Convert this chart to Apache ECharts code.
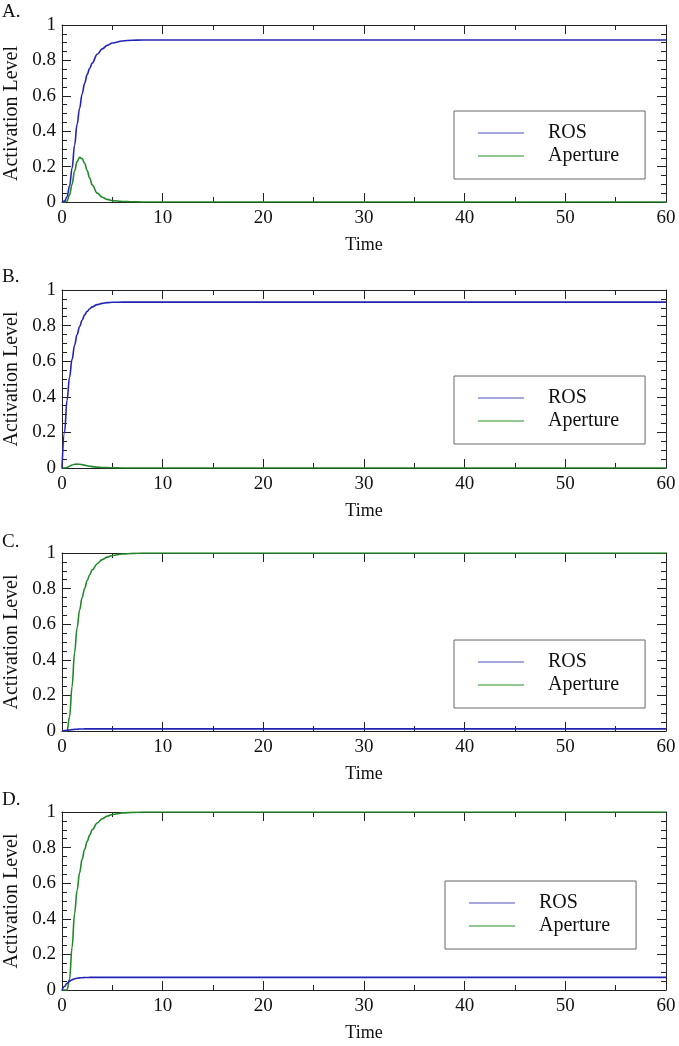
<!DOCTYPE html>
<html>
<head>
<meta charset="utf-8">
<script src="https://cdn.jsdelivr.net/npm/echarts@6/dist/echarts.min.js"></script>
<style>html,body{margin:0;padding:0;background:#fff;}#c{width:679px;height:1046px;}</style>
</head>
<body>
<div id="c"></div>
<script>
// Time samples (shared by all panels)
var time = [0, 0.25, 0.5, 0.75, 1, 1.25, 1.5, 1.75, 2, 2.25, 2.5, 2.75, 3, 3.5, 4, 4.5, 5, 6, 7, 8, 10, 60];

// Panel A
var rosA = [0, 0.005, 0.03, 0.09, 0.19, 0.32, 0.44, 0.53, 0.61, 0.67, 0.72, 0.755, 0.785, 0.835, 0.865, 0.885, 0.898, 0.91, 0.914, 0.915, 0.915, 0.915];
var apA  = [0, 0, 0.005, 0.04, 0.1, 0.175, 0.228, 0.252, 0.245, 0.218, 0.178, 0.135, 0.097, 0.05, 0.027, 0.015, 0.008, 0.003, 0.001, 0, 0, 0];
// Panel B
var rosB = [0, 0.2, 0.38, 0.51, 0.61, 0.69, 0.75, 0.795, 0.83, 0.86, 0.88, 0.895, 0.905, 0.918, 0.925, 0.929, 0.931, 0.932, 0.932, 0.932, 0.932, 0.932];
var apB  = [0, 0, 0.003, 0.01, 0.017, 0.021, 0.022, 0.021, 0.019, 0.016, 0.013, 0.01, 0.008, 0.005, 0.003, 0.002, 0.001, 0, 0, 0, 0, 0];
// Panel C
var rosC = [0, 0.002, 0.004, 0.006, 0.008, 0.009, 0.01, 0.011, 0.011, 0.012, 0.012, 0.012, 0.012, 0.012, 0.012, 0.012, 0.012, 0.012, 0.012, 0.012, 0.012, 0.012];
var apC  = [0, 0, 0, 0.08, 0.25, 0.44, 0.58, 0.68, 0.75, 0.8, 0.845, 0.878, 0.905, 0.94, 0.963, 0.977, 0.986, 0.994, 0.998, 1, 1, 1];
// Panel D
var rosD = [0, 0.02, 0.038, 0.05, 0.058, 0.063, 0.066, 0.068, 0.069, 0.07, 0.07, 0.071, 0.071, 0.071, 0.071, 0.071, 0.071, 0.071, 0.071, 0.071, 0.071, 0.071];
var apD  = [0, 0, 0, 0.06, 0.24, 0.43, 0.56, 0.66, 0.735, 0.79, 0.835, 0.87, 0.9, 0.938, 0.962, 0.977, 0.986, 0.995, 0.998, 1, 1, 1];

var panelLabels = ['A.', 'B.', 'C.', 'D.'];
var seriesNames = ['ROS', 'Aperture'];
var xTitle = 'Time';
var yTitle = 'Activation Level';

var panels = [
  {label: panelLabels[0], ros: rosA, ap: apA, top: 25, h: 177, legLeft: 454, legTop: 111, labTop: 3},
  {label: panelLabels[1], ros: rosB, ap: apB, top: 290, h: 178, legLeft: 454, legTop: 376, labTop: 268},
  {label: panelLabels[2], ros: rosC, ap: apC, top: 553, h: 178, legLeft: 454, legTop: 640, labTop: 533},
  {label: panelLabels[3], ros: rosD, ap: apD, top: 812, h: 178, legLeft: 445, legTop: 881, labTop: 791}
];

var FONT = '"Liberation Serif", "Times New Roman", "DejaVu Serif", serif';
var ROS_COLOR = '#2424b4';
var AP_COLOR = '#22882a';

function pairs(xs, ys) { return xs.map(function (x, i) { return [x, ys[i]]; }); }

var option = {
  backgroundColor: '#fff',
  animation: false,
  textStyle: {fontFamily: FONT},
  title: [], grid: [], xAxis: [], yAxis: [], series: [], legend: []
};

panels.forEach(function (p, i) {
  option.title.push({text: p.label, left: 2, top: p.labTop, padding: 0,
    textStyle: {fontFamily: FONT, fontSize: 19, fontWeight: 'normal', color: '#111'}});
  option.grid.push({left: 62, right: 13, top: p.top, height: p.h, containLabel: false, outerBoundsMode: 'none'});
  var tick = {show: true, inside: true, length: 9, lineStyle: {color: '#222'}};
  var minor = {show: true, length: 5, lineStyle: {color: '#222'}};
  var axLine = {show: true, onZero: false, lineStyle: {color: '#222', width: 1}};
  // bottom x axis
  option.xAxis.push({type: 'value', gridIndex: i, min: 0, max: 60, interval: 10, position: 'bottom',
    axisLine: axLine, axisTick: tick, minorTick: Object.assign({splitNumber: 2}, minor),
    splitLine: {show: false},
    axisLabel: {fontFamily: FONT, fontSize: 19, color: '#111', margin: 7},
    name: xTitle, nameLocation: 'middle', nameGap: 34,
    nameTextStyle: {fontFamily: FONT, fontSize: 18, color: '#111'}});
  // top mirror x axis
  option.xAxis.push({type: 'value', gridIndex: i, min: 0, max: 60, interval: 10, position: 'top',
    axisLine: axLine, axisTick: tick, minorTick: Object.assign({splitNumber: 2}, minor),
    splitLine: {show: false}, axisLabel: {show: false}});
  // left y axis
  option.yAxis.push({type: 'value', gridIndex: i, min: 0, max: 1, interval: 0.2, position: 'left',
    axisLine: axLine, axisTick: tick, minorTick: Object.assign({splitNumber: 4}, minor),
    splitLine: {show: false},
    axisLabel: {fontFamily: FONT, fontSize: 19, color: '#111', margin: 6},
    name: yTitle, nameLocation: 'middle', nameGap: 40, nameRotate: 90,
    nameTextStyle: {fontFamily: FONT, fontSize: 20, color: '#111'}});
  // right mirror y axis
  option.yAxis.push({type: 'value', gridIndex: i, min: 0, max: 1, interval: 0.2, position: 'right',
    axisLine: axLine, axisTick: tick, minorTick: Object.assign({splitNumber: 4}, minor),
    splitLine: {show: false}, axisLabel: {show: false}});

  option.series.push({name: seriesNames[0], type: 'line', xAxisIndex: 2 * i, yAxisIndex: 2 * i,
    data: pairs(time, p.ros), showSymbol: false, symbol: 'none', smooth: 0.4, smoothMonotone: 'x',
    lineStyle: {color: ROS_COLOR, width: 1.6}, itemStyle: {color: ROS_COLOR}, z: 3});
  option.series.push({name: seriesNames[1], type: 'line', xAxisIndex: 2 * i, yAxisIndex: 2 * i,
    data: pairs(time, p.ap), showSymbol: false, symbol: 'none', smooth: 0.4, smoothMonotone: 'x',
    lineStyle: {color: AP_COLOR, width: 1.6}, itemStyle: {color: AP_COLOR}, z: 2});

  option.legend.push({
    orient: 'vertical', left: p.legLeft, top: p.legTop, selectedMode: false,
    padding: [11, 26, 12, 24], itemGap: 1, itemWidth: 46, itemHeight: 1.5,
    backgroundColor: '#fff', borderColor: '#666', borderWidth: 1, borderRadius: 0,
    icon: 'rect',
    data: [
      {name: seriesNames[0], itemStyle: {color: '#8a8ad6'}},
      {name: seriesNames[1], itemStyle: {color: '#6cb46c'}}
    ],
    textStyle: {fontFamily: FONT, fontSize: 20, color: '#111', lineHeight: 22, padding: [0, 0, 0, 19]}
  });
});

var chart = echarts.init(document.getElementById('c'), null, {renderer: 'canvas'});
chart.setOption(option);
</script>
</body>
</html>
